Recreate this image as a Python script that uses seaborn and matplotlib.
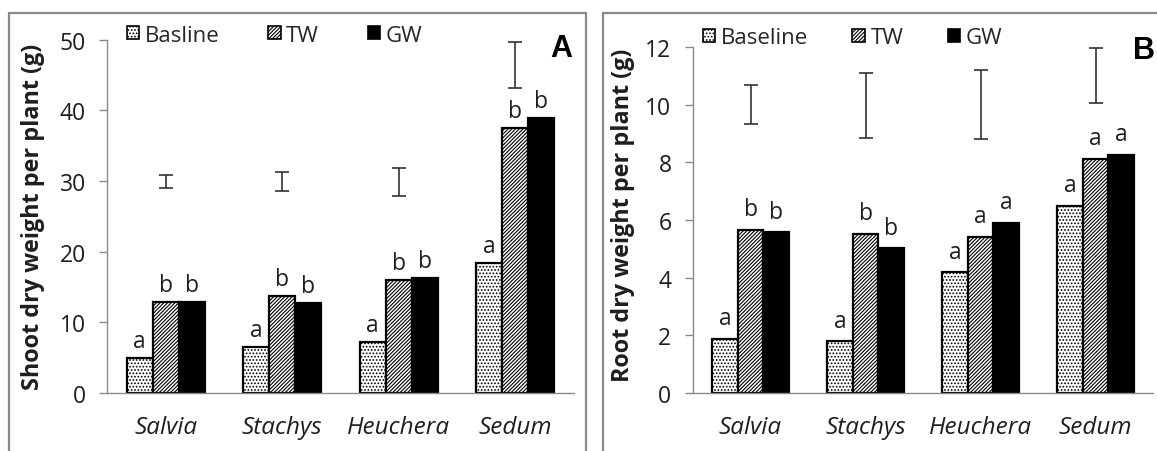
import numpy as np
import pandas as pd
import matplotlib
matplotlib.use("Agg")
import matplotlib.pyplot as plt
import seaborn as sns
from matplotlib.patches import Patch, Rectangle

# ---------------- data ----------------
categories = ["Salvia", "Stachys", "Heuchera", "Sedum"]
treatments_a = ["Basline", "TW", "GW"]
treatments_b = ["Baseline", "TW", "GW"]

shoot_baseline = [4.95, 6.47, 7.18, 18.36]
shoot_tw = [12.92, 13.73, 16.03, 37.46]
shoot_gw = [12.84, 12.69, 16.27, 38.96]
shoot_lsd_low = [29.0, 28.6, 27.9, 43.1]
shoot_lsd_high = [30.8, 31.3, 31.9, 49.7]
shoot_letters_baseline = ["a", "a", "a", "a"]
shoot_letters_tw = ["b", "b", "b", "b"]
shoot_letters_gw = ["b", "b", "b", "b"]

root_baseline = [1.88, 1.79, 4.19, 6.50]
root_tw = [5.67, 5.53, 5.41, 8.12]
root_gw = [5.58, 5.02, 5.90, 8.27]
root_lsd_low = [9.34, 8.85, 8.80, 10.06]
root_lsd_high = [10.67, 11.11, 11.20, 11.97]
root_letters_baseline = ["a", "a", "a", "a"]
root_letters_tw = ["b", "b", "a", "a"]
root_letters_gw = ["b", "b", "a", "a"]

yticks_a = [0, 10, 20, 30, 40, 50]
yticks_b = [0, 2, 4, 6, 8, 10, 12]

# ---------------- style ----------------
sns.set_style("white")
plt.rcParams["font.family"] = ["Open Sans", "DejaVu Sans"]
plt.rcParams["hatch.linewidth"] = 0.8
plt.rcParams["hatch.color"] = "black"

W, H = 1157, 452
fig = plt.figure(figsize=(W / 100, H / 100), dpi=100)

GRAY = "#8a8a8a"
TXT = "#1e1e1e"
hatches = [".....", "/////////", None]
faces = ["white", "white", "black"]


def fx(px):
    return px / W


def fy(py):
    return 1 - py / H


# panel frames
for x0, x1 in [(9, 586), (603, 1175)]:
    fig.patches.append(Rectangle((fx(x0), -0.05), fx(x1 - x0), fy(14) + 0.05,
                                 transform=fig.transFigure, fill=False,
                                 edgecolor=GRAY, linewidth=1.6, zorder=0))


def panel(rect, tnames, b, t, g, lo, hi, lb, lt, lg, ymax, yticks, ylabel,
          tag, tagxy, ylab_x, ylab_y, legxy, letter_off, colspace):
    ax = fig.add_axes(rect)
    df = pd.DataFrame({
        "category": categories * 3,
        "treatment": [tnames[0]] * 4 + [tnames[1]] * 4 + [tnames[2]] * 4,
        "value": list(b) + list(t) + list(g),
    })
    sns.barplot(data=df, x="category", y="value", hue="treatment",
                order=categories, hue_order=tnames, width=0.67,
                palette=faces, edgecolor="black", linewidth=1.6,
                saturation=1, legend=False, ax=ax, errorbar=None)
    letters = [lb, lt, lg]
    for i, cont in enumerate(ax.containers):
        for j, p in enumerate(cont.patches):
            p.set_facecolor(faces[i])
            p.set_edgecolor("black")
            if hatches[i]:
                p.set_hatch(hatches[i])
            ax.annotate(letters[i][j], (p.get_x() + p.get_width() / 2, p.get_height()),
                        xytext=(0, letter_off), textcoords="offset points",
                        ha="center", va="baseline", fontsize=16.5, color=TXT)
    # LSD bars
    lo = np.array(lo)
    hi = np.array(hi)
    ax.errorbar(np.arange(len(categories)), (lo + hi) / 2, yerr=(hi - lo) / 2,
                fmt="none", ecolor="#333333", elinewidth=1.2, capsize=5,
                capthick=1.2)
    ax.set_xlim(-0.5, len(categories) - 0.5)
    ax.set_ylim(0, ymax)
    ax.set_yticks(yticks)
    ax.set_yticklabels([str(v) for v in yticks], fontsize=16.5, color=TXT)
    ax.set_xticks(np.arange(len(categories)))
    ax.set_xticklabels(categories, fontsize=17.5, style="italic", color=TXT)
    ax.set_xticks(np.arange(-0.5, len(categories)), minor=True)
    ax.tick_params(axis="x", which="major", length=0, pad=16)
    ax.tick_params(axis="x", which="minor", length=6.5, width=1, color=GRAY,
                   direction="out")
    ax.tick_params(axis="y", length=5.5, width=1, color=GRAY, direction="out",
                   pad=10, left=True)
    for s in ["top", "right"]:
        ax.spines[s].set_visible(False)
    for s in ["left", "bottom"]:
        ax.spines[s].set_color(GRAY)
        ax.spines[s].set_linewidth(1)
    ax.set_xlabel("")
    ax.set_ylabel(ylabel, fontsize=16.8, fontweight="bold", color=TXT, va="center")
    ax.yaxis.set_label_coords(ylab_x, ylab_y)
    ax.patch.set_alpha(0)
    fig.text(fx(tagxy[0]), fy(tagxy[1]), tag, fontsize=22, fontweight="bold",
             family="Liberation Sans", ha="center", va="center", color="black")
    handles = [Patch(facecolor=faces[i], edgecolor="black", hatch=hatches[i],
                     linewidth=1.2, label=tnames[i]) for i in range(3)]
    fig.legend(handles=handles, loc="center left",
               bbox_to_anchor=(fx(legxy[0]), fy(legxy[1])), ncol=3,
               frameon=False, fontsize=16, handlelength=0.55, handleheight=0.55,
               handletextpad=0.25, columnspacing=colspace, borderpad=0,
               borderaxespad=0)
    return ax


panel([fx(107.5), fy(394), fx(466), (394 - 40.7) / H],
      treatments_a, shoot_baseline, shoot_tw, shoot_gw,
      shoot_lsd_low, shoot_lsd_high,
      shoot_letters_baseline, shoot_letters_tw, shoot_letters_gw,
      50, yticks_a, "Shoot dry weight per plant (g)", "A", (561, 49),
      -0.160, 0.501, (127, 36), 8, 2.2)

panel([fx(693), fy(394), fx(460), (394 - 48) / H],
      treatments_b, root_baseline, root_tw, root_gw,
      root_lsd_low, root_lsd_high,
      root_letters_baseline, root_letters_tw, root_letters_gw,
      12, yticks_b, "Root dry weight per plant (g)", "B", (1144, 51),
      -0.152, 0.517, (703, 39), 10.5, 2.0)

fig.savefig("out.png", dpi=100)
